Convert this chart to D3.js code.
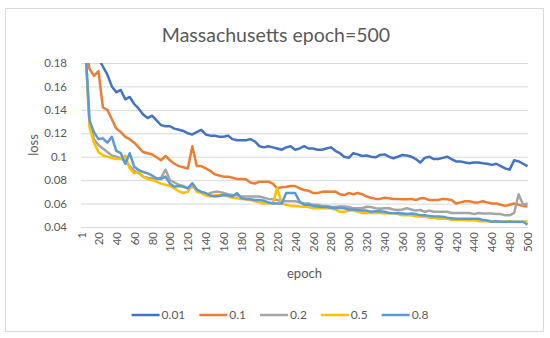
<!DOCTYPE html>
<html>
<head>
<meta charset="utf-8">
<script src="https://d3js.org/d3.v7.min.js"></script>
<style>
  body { margin: 0; background: #fff; }
  text { font-family: Lato, "Open Sans", sans-serif; fill: #595959; }
</style>
</head>
<body>
<div id="chart"></div>
<script>
//---------------------------------- Data --------------------
var epochs = [1];
for (var k = 5; k <= 500; k += 5) epochs.push(k);

var series_names = ["0.01", "0.1", "0.2", "0.5", "0.8"];
var series_colors = ["#4472C4", "#ED7D31", "#A5A5A5", "#FFC000", "#5B9BD5"];

var loss_001 = [0.30, 0.245, 0.215, 0.197, 0.184, 0.177, 0.170, 0.160, 0.155, 0.157,
  0.149, 0.151, 0.145, 0.141, 0.136, 0.133, 0.135, 0.131, 0.127, 0.126,
  0.126, 0.124, 0.123, 0.122, 0.120, 0.119, 0.121, 0.123, 0.119, 0.118,
  0.118, 0.117, 0.117, 0.118, 0.115, 0.114, 0.114, 0.114, 0.115, 0.113,
  0.109, 0.108, 0.109, 0.108, 0.107, 0.106, 0.108, 0.109, 0.106, 0.107,
  0.109, 0.107, 0.107, 0.106, 0.106, 0.107, 0.108, 0.105, 0.103, 0.100,
  0.099, 0.103, 0.102, 0.1006, 0.101, 0.100, 0.0995, 0.1015, 0.102, 0.100,
  0.0987, 0.100, 0.1015, 0.101, 0.100, 0.098, 0.095, 0.099, 0.100, 0.098,
  0.098, 0.099, 0.100, 0.098, 0.096, 0.096, 0.095, 0.0944, 0.095, 0.095,
  0.0944, 0.094, 0.093, 0.094, 0.092, 0.090, 0.089, 0.097, 0.096, 0.094, 0.092];

var loss_01 = [0.28, 0.20, 0.175, 0.169, 0.173, 0.142, 0.140, 0.132, 0.124, 0.121,
  0.117, 0.115, 0.112, 0.108, 0.104, 0.103, 0.102, 0.0995, 0.097, 0.1006,
  0.097, 0.094, 0.092, 0.091, 0.090, 0.109, 0.092, 0.092, 0.090, 0.088,
  0.085, 0.084, 0.083, 0.083, 0.082, 0.081, 0.081, 0.0807, 0.078, 0.077,
  0.0787, 0.0787, 0.0787, 0.077, 0.073, 0.074, 0.0744, 0.075, 0.075, 0.073,
  0.0716, 0.071, 0.069, 0.069, 0.070, 0.0702, 0.070, 0.0702, 0.068, 0.0673,
  0.069, 0.068, 0.069, 0.068, 0.066, 0.065, 0.064, 0.064, 0.065, 0.0645,
  0.064, 0.064, 0.0637, 0.0637, 0.064, 0.063, 0.0645, 0.0645, 0.063, 0.063,
  0.063, 0.064, 0.0637, 0.063, 0.060, 0.061, 0.062, 0.062, 0.061, 0.061,
  0.062, 0.061, 0.060, 0.060, 0.059, 0.058, 0.059, 0.060, 0.059, 0.058, 0.0575];

var loss_02 = [0.30, 0.20, 0.129, 0.115, 0.110, 0.107, 0.104, 0.101, 0.100, 0.0987,
  0.096, 0.092, 0.088, 0.086, 0.083, 0.082, 0.0816, 0.081, 0.082, 0.089,
  0.080, 0.078, 0.076, 0.075, 0.073, 0.0744, 0.072, 0.070, 0.0673, 0.069,
  0.070, 0.070, 0.069, 0.068, 0.0673, 0.067, 0.066, 0.066, 0.066, 0.066,
  0.066, 0.065, 0.064, 0.0637, 0.063, 0.062, 0.062, 0.062, 0.062, 0.061,
  0.060, 0.060, 0.059, 0.059, 0.058, 0.058, 0.0573, 0.057, 0.0575, 0.0576,
  0.057, 0.056, 0.056, 0.056, 0.0573, 0.057, 0.056, 0.0555, 0.056, 0.056,
  0.055, 0.0545, 0.055, 0.056, 0.055, 0.054, 0.0545, 0.053, 0.054, 0.053,
  0.053, 0.053, 0.053, 0.052, 0.052, 0.052, 0.052, 0.052, 0.051, 0.052,
  0.0515, 0.0515, 0.0515, 0.051, 0.051, 0.050, 0.050, 0.052, 0.068, 0.059, 0.060];

var loss_05 = [0.30, 0.20, 0.125, 0.112, 0.104, 0.101, 0.100, 0.099, 0.098, 0.098,
  0.101, 0.090, 0.0858, 0.0872, 0.083, 0.081, 0.080, 0.0787, 0.077, 0.076,
  0.075, 0.073, 0.0705, 0.069, 0.070, 0.077, 0.070, 0.069, 0.067, 0.066,
  0.067, 0.067, 0.0673, 0.066, 0.065, 0.0645, 0.064, 0.0637, 0.063, 0.062,
  0.061, 0.060, 0.0605, 0.060, 0.073, 0.060, 0.059, 0.058, 0.058, 0.0575,
  0.0573, 0.057, 0.056, 0.056, 0.056, 0.056, 0.056, 0.055, 0.053, 0.053,
  0.054, 0.054, 0.053, 0.052, 0.0522, 0.052, 0.052, 0.052, 0.0515, 0.052,
  0.0517, 0.051, 0.050, 0.050, 0.050, 0.049, 0.049, 0.0488, 0.048, 0.048,
  0.047, 0.047, 0.047, 0.046, 0.046, 0.046, 0.046, 0.0455, 0.046, 0.045,
  0.045, 0.045, 0.0445, 0.045, 0.0445, 0.0445, 0.045, 0.0445, 0.0445, 0.0445, 0.045];

var loss_08 = [0.30, 0.20, 0.131, 0.121, 0.115, 0.1157, 0.112, 0.117, 0.105, 0.103,
  0.094, 0.103, 0.0915, 0.0886, 0.087, 0.0858, 0.084, 0.0816, 0.081, 0.083,
  0.077, 0.0744, 0.075, 0.0744, 0.073, 0.0773, 0.072, 0.070, 0.069, 0.067,
  0.066, 0.0665, 0.0673, 0.067, 0.066, 0.069, 0.0645, 0.064, 0.0637, 0.063,
  0.063, 0.0625, 0.061, 0.060, 0.060, 0.060, 0.069, 0.069, 0.069, 0.0616,
  0.059, 0.059, 0.058, 0.0575, 0.057, 0.057, 0.0565, 0.056, 0.0565, 0.056,
  0.055, 0.055, 0.0545, 0.054, 0.054, 0.053, 0.0535, 0.0535, 0.053, 0.052,
  0.0517, 0.052, 0.0515, 0.051, 0.0515, 0.051, 0.050, 0.050, 0.0495, 0.049,
  0.049, 0.0488, 0.048, 0.0475, 0.047, 0.047, 0.047, 0.047, 0.047, 0.047,
  0.046, 0.0455, 0.0445, 0.045, 0.0445, 0.0445, 0.0445, 0.0445, 0.0445, 0.0445, 0.042];

var series_values = [loss_001, loss_01, loss_02, loss_05, loss_08];

var y_ticks = [0.04, 0.06, 0.08, 0.1, 0.12, 0.14, 0.16, 0.18];
var x_ticks = [1];
for (var t = 20; t <= 500; t += 20) x_ticks.push(t);

//---------------------------------- View Elements --------------------
var width = 550, height = 338;
var plot = {left: 81, right: 528, top: 63, bottom: 227};

var svg = d3.select("#chart").append("svg")
    .attr("width", width)
    .attr("height", height);

// ---------- Border around the chart ----------
svg.append("rect")
    .attr("x", 5.5).attr("y", 8.5)
    .attr("width", 538).attr("height", 323)
    .style("fill", "#fff")
    .style("stroke", "#D9D9D9")
    .style("stroke-width", 1);

var x_scale = d3.scaleLinear().domain([0.5, 500.5]).range([plot.left, plot.right]);
var y_scale = d3.scaleLinear().domain([0.04, 0.18]).range([plot.bottom, plot.top]);

// gridlines + y labels
var y_axis = d3.axisLeft(y_scale)
    .tickValues(y_ticks)
    .tickSize(-(plot.right - plot.left))
    .tickPadding(14)
    .tickFormat(function(d){ return d3.format("")(+d.toFixed(2)); });

svg.append("g")
    .attr("class", "y_axis")
    .attr("transform", "translate(" + plot.left + ",0)")
    .call(y_axis)
    .call(function(g){
      g.select(".domain").remove();
      g.selectAll("line").style("stroke", "#D9D9D9").style("stroke-width", 1);
      g.selectAll("text").style("font-size", "11.5px").style("fill", "#595959");
    });

// x labels (rotated)
var x_axis = d3.axisBottom(x_scale)
    .tickValues(x_ticks)
    .tickSize(0)
    .tickFormat(d3.format("d"));

svg.append("g")
    .attr("class", "x_axis")
    .attr("transform", "translate(0," + plot.bottom + ")")
    .call(x_axis)
    .call(function(g){
      g.select(".domain").remove();
      g.selectAll("text")
        .attr("transform", "rotate(-90)")
        .attr("x", -5)
        .attr("y", 0)
        .attr("dy", "0.35em")
        .style("text-anchor", "end")
        .style("font-size", "11.5px")
        .style("fill", "#595959");
    });

// ---------- Lines ----------
svg.append("clipPath").attr("id", "plot_clip")
  .append("rect")
    .attr("x", plot.left - 2).attr("y", plot.top)
    .attr("width", plot.right - plot.left + 4)
    .attr("height", plot.bottom - plot.top + 4);

var line = d3.line()
    .x(function(d, i){ return x_scale(epochs[i]); })
    .y(function(d){ return y_scale(d); });

svg.append("g")
    .attr("clip-path", "url(#plot_clip)")
    .selectAll(".loss_line")
    .data(series_values)
    .enter().append("path")
    .attr("class", "loss_line")
    .attr("d", line)
    .style("fill", "none")
    .style("stroke", function(d, i){ return series_colors[i]; })
    .style("stroke-width", 2.5)
    .style("stroke-linejoin", "round");

// ---------- Titles ----------
svg.append("text")
    .attr("x", 276).attr("y", 35)
    .attr("dy", "0.35em")
    .style("text-anchor", "middle")
    .style("font-size", "19.5px")
    .text("Massachusetts epoch=500");

svg.append("text")
    .attr("transform", "translate(33," + ((plot.top + plot.bottom) / 2) + ") rotate(-90)")
    .attr("dy", "0.35em")
    .style("text-anchor", "middle")
    .style("font-size", "13px")
    .text("loss");

svg.append("text")
    .attr("x", (plot.left + plot.right) / 2).attr("y", 273)
    .attr("dy", "0.35em")
    .style("text-anchor", "middle")
    .style("font-size", "13px")
    .text("epoch");

// ---------- Legend ----------
var legend = svg.append("g").attr("class", "legend");
var items = legend.selectAll(".legend_item")
    .data(series_names)
    .enter().append("g")
    .attr("class", "legend_item");

items.append("line")
    .attr("x1", 0).attr("x2", 28)
    .attr("y1", 0).attr("y2", 0)
    .style("stroke", function(d, i){ return series_colors[i]; })
    .style("stroke-width", 2.5);

items.append("text")
    .attr("x", 30).attr("dy", "0.35em")
    .style("font-size", "12px")
    .text(function(d){ return d; });

var pos = 0, offsets = [];
items.each(function(d, i){
  offsets.push(pos);
  pos += 30 + d3.select(this).select("text").node().getComputedTextLength() + 14;
});
var legend_start = 280 - (pos - 14) / 2;
items.attr("transform", function(d, i){ return "translate(" + (legend_start + offsets[i]) + ",315)"; });
</script>
</body>
</html>
